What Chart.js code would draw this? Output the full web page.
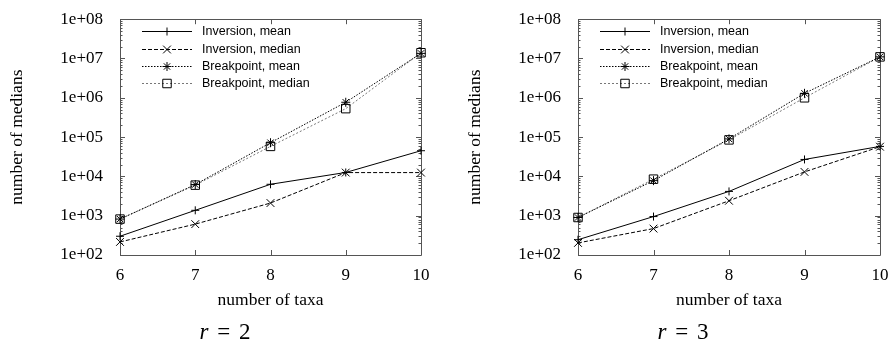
<!DOCTYPE html>
<html>
<head>
<meta charset="utf-8">
<script src="https://cdn.jsdelivr.net/npm/chart.js@4.4.0/dist/chart.umd.min.js"></script>
<style>
  html, body { margin: 0; padding: 0; background: #fff; }
  body { width: 893px; height: 348px; position: relative; overflow: hidden; }
  .panel { position: absolute; top: 0; height: 348px; }
  .caption { position: absolute; top: 319px; width: 120px; text-align: center; word-spacing: 3px;
             font-family: 'Liberation Serif', 'Times New Roman', serif; font-size: 23px; color: #000; }
</style>
</head>
<body>
<div class="panel" style="left:0;width:446px"><canvas id="chartR2"></canvas></div>
<div class="panel" style="left:446px;width:447px"><canvas id="chartR3"></canvas></div>
<div class="caption" style="left:165px"><i>r</i> = 2</div>
<div class="caption" style="left:623px"><i>r</i> = 3</div>
<script>
// x categories and y ticks
const taxa = ['6', '7', '8', '9', '10'];
const yTicks = [1e2, 1e3, 1e4, 1e5, 1e6, 1e7, 1e8];
const seriesNames = ['Inversion, mean', 'Inversion, median', 'Breakpoint, mean', 'Breakpoint, median'];

// r = 2
const r2InvMean   = [300, 1370, 6300, 12600, 45000];
const r2InvMedian = [215, 610, 2100, 12500, 12500];
const r2BpMean    = [820, 6200, 72000, 770000, 13500000];
const r2BpMedian  = [820, 6000, 58000, 530000, 14000000];

// r = 3
const r3InvMean   = [245, 950, 4150, 27000, 58000];
const r3InvMedian = [203, 470, 2400, 13000, 57000];
const r3BpMean    = [900, 7800, 90000, 1300000, 11000000];
const r3BpMedian  = [900, 8500, 85000, 1000000, 11000000];

const serif = "'Liberation Serif', 'Times New Roman', serif";
const sans = "'Liberation Sans', Arial, sans-serif";

// line / marker look per series (gnuplot-ish)
const styles = [
    { borderColor: '#000', borderDash: [],         pointStyle: 'cross',    pointRadius: 4 },
    { borderColor: '#000', borderDash: [4, 2],     pointStyle: 'crossRot', pointRadius: 5.5 },
    { borderColor: '#000', borderDash: [1.5, 1.5], pointStyle: 'star',     pointRadius: 4.5 },
    { borderColor: '#777', borderDash: [2, 2],     pointStyle: 'rect',     pointRadius: 6 }
];

function makeDatasets(series) {
    return series.map((vals, i) => ({
        label: seriesNames[i],
        data: vals,
        borderColor: styles[i].borderColor,
        borderDash: styles[i].borderDash,
        borderWidth: 1,
        pointStyle: styles[i].pointStyle,
        pointRadius: styles[i].pointRadius,
        pointBorderColor: '#000',
        pointBackgroundColor: 'rgba(0,0,0,0)',
        pointBorderWidth: 1,
        tension: 0,
        fill: false,
        clip: false
    }));
}

// plot border + inward ticks like gnuplot
const framePlugin = {
    id: 'frame',
    beforeDatasetsDraw(chart) {
        const { ctx, chartArea: a, scales: { x, y } } = chart;
        ctx.save();
        ctx.strokeStyle = '#555';
        ctx.lineWidth = 1;
        ctx.beginPath();
        ctx.rect(Math.round(a.left) + 0.5, Math.round(a.top) + 0.5,
                 Math.round(a.right - a.left), Math.round(a.bottom - a.top));
        taxa.forEach((t, i) => {
            const px = Math.round(x.getPixelForValue(i)) + 0.5;
            ctx.moveTo(px, a.bottom); ctx.lineTo(px, a.bottom - 5);
            ctx.moveTo(px, a.top);    ctx.lineTo(px, a.top + 5);
        });
        for (let e = 2; e <= 8; e++) {
            for (let k = 1; k <= 9; k++) {
                const v = k * Math.pow(10, e);
                if (v > 1e8) break;
                const py = Math.round(y.getPixelForValue(v)) + 0.5;
                const len = k === 1 ? 5 : 2.5;
                ctx.moveTo(a.left, py);  ctx.lineTo(a.left + len, py);
                ctx.moveTo(a.right, py); ctx.lineTo(a.right - len, py);
            }
        }
        ctx.stroke();
        ctx.restore();
    }
};

// legend box inside the top-left corner
const legendPlugin = {
    id: 'insideLegend',
    afterDatasetsDraw(chart) {
        const { ctx, chartArea: a } = chart;
        ctx.save();
        chart.data.datasets.forEach((ds, i) => {
            const y = Math.round(a.top + 12 + i * 17.4) + 0.5;
            const x0 = a.left + 22, x1 = a.left + 72;
            ctx.strokeStyle = ds.borderColor;
            ctx.lineWidth = 1;
            ctx.setLineDash(ds.borderDash);
            ctx.beginPath();
            ctx.moveTo(x0, y); ctx.lineTo(x1, y);
            ctx.stroke();
            ctx.setLineDash([]);
            ctx.strokeStyle = '#000';
            ctx.fillStyle = 'rgba(0,0,0,0)';
            Chart.helpers.drawPoint(ctx, { pointStyle: ds.pointStyle, radius: ds.pointRadius, borderWidth: 1, rotation: 0 }, (x0 + x1) / 2, y);
            ctx.fillStyle = '#000';
            ctx.font = '12.5px ' + sans;
            ctx.textBaseline = 'middle';
            ctx.textAlign = 'left';
            ctx.fillText(ds.label, a.left + 82, y);
        });
        ctx.restore();
    }
};

function makeChart(id, series, pad) {
    const ctx = document.getElementById(id).getContext('2d');
    return new Chart(ctx, {
        type: 'line',
        data: { labels: taxa, datasets: makeDatasets(series) },
        options: {
            responsive: true,
            maintainAspectRatio: false,
            animation: false,
            layout: { padding: pad },
            plugins: { legend: { display: false }, tooltip: { enabled: false } },
            scales: {
                x: {
                    type: 'category',
                    offset: false,
                    afterFit: s => { s.height = 56; },
                    grid: { display: false },
                    border: { display: false },
                    ticks: { color: '#000', font: { family: serif, size: 17 }, padding: 2, maxRotation: 0 },
                    title: { display: true, text: 'number of taxa', color: '#000',
                             font: { family: serif, size: 17.5 }, padding: { top: 0, bottom: 0 } }
                },
                y: {
                    type: 'logarithmic',
                    min: 100,
                    max: 1e8,
                    afterBuildTicks: s => { s.ticks = yTicks.map(v => ({ value: v })); },
                    afterFit: s => { s.width = 120; },
                    grid: { display: false },
                    border: { display: false },
                    ticks: {
                        color: '#000', font: { family: serif, size: 17 }, padding: 9,
                        callback: v => '1e+' + String(Math.round(Math.log10(v))).padStart(2, '0')
                    },
                    title: { display: true, text: 'number of medians', color: '#000',
                             font: { family: serif, size: 17.5 }, padding: { top: 7, bottom: 0 } }
                }
            }
        },
        plugins: [framePlugin, legendPlugin]
    });
}

makeChart('chartR2', [r2InvMean, r2InvMedian, r2BpMean, r2BpMedian], { left: 0, right: 25, top: 14, bottom: 37 });
makeChart('chartR3', [r3InvMean, r3InvMedian, r3BpMean, r3BpMedian], { left: 12, right: 13, top: 14, bottom: 37 });
</script>
</body>
</html>
